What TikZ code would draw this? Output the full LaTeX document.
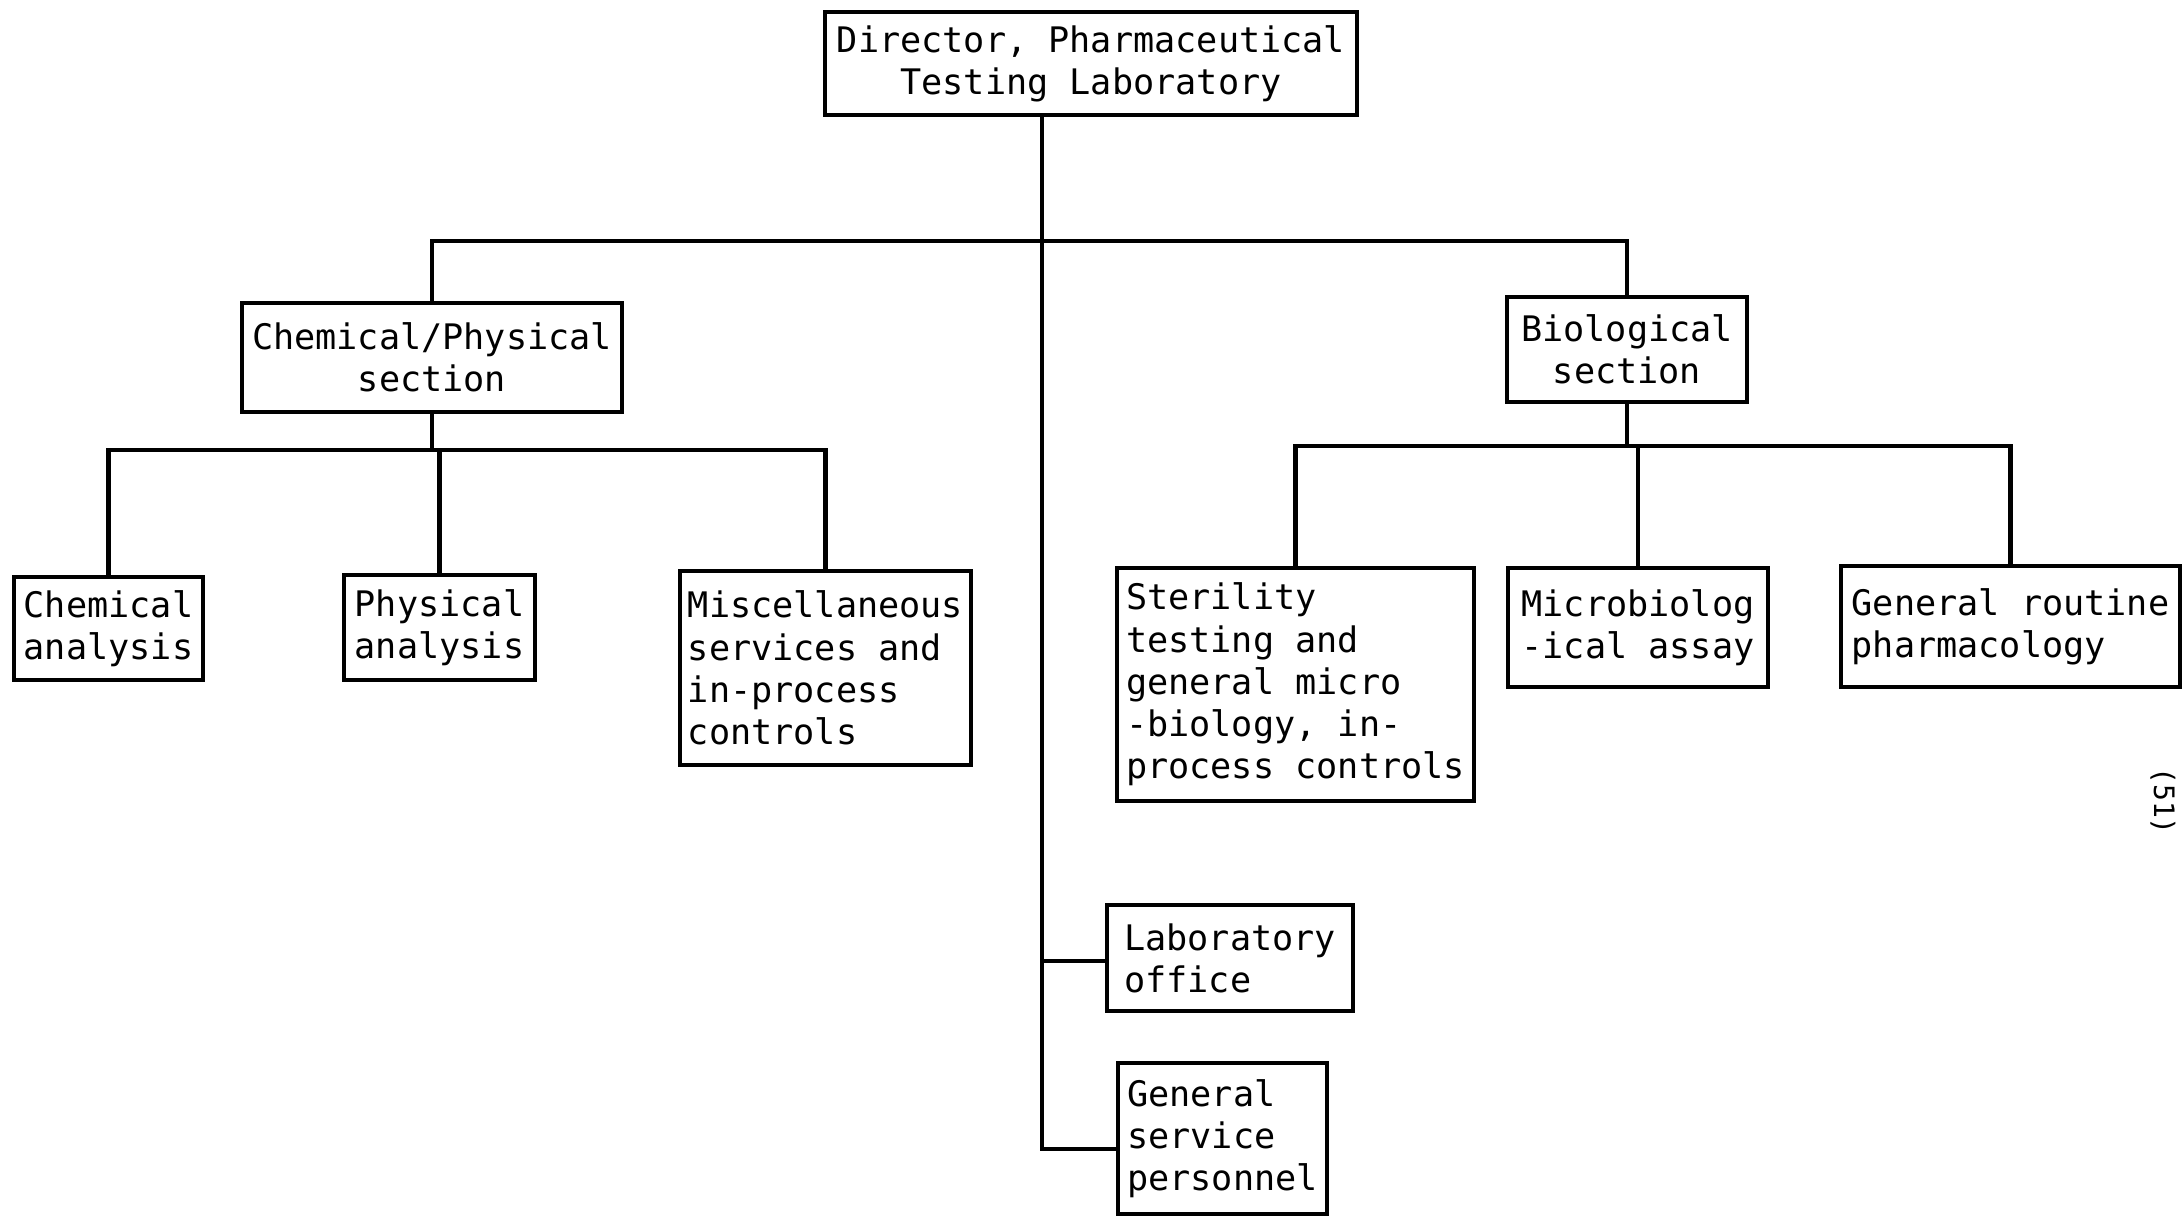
\documentclass[tikz,border=0pt]{standalone}
\usepackage{fontspec}
\setmonofont{DejaVu Sans Mono}
\tikzset{
  unitbox/.style={draw, rectangle, line width=1.3pt, inner sep=2pt,
    font=\ttfamily\fontsize{10}{12}\selectfont},
  link/.style={line width=1.3pt},
}
\begin{document}
\begin{tikzpicture}[x=0.01cm, y=-0.01cm]
                \useasboundingbox (0,0) rectangle (2184,1218);

                \node[unitbox, align=center, minimum width=5.32cm, minimum height=1.03cm] (director) at (1091,63.5) {Director, Pharmaceutical\\Testing Laboratory};
                \node[unitbox, align=center, minimum width=3.80cm, minimum height=1.09cm] (chemphys) at (432,357.5) {Chemical/Physical\\section};
                \node[unitbox, align=center, minimum width=2.40cm, minimum height=1.05cm] (bio) at (1627,349.5) {Biological\\section};

                \node[unitbox, align=left, minimum width=1.89cm, minimum height=1.03cm] (chem) at (108.5,628.5) {Chemical\\analysis};
                \node[unitbox, align=left, minimum width=1.91cm, minimum height=1.05cm] (phys) at (439.5,627.5) {Physical\\analysis};
                \node[unitbox, align=left, minimum width=2.91cm, minimum height=1.94cm] (misc) at (825.5,668) {Miscellaneous\\services and\\in-process\\controls};

                \node[unitbox, align=left, minimum width=3.57cm, minimum height=2.33cm] (steril) at (1295.5,684.5) {Sterility\\testing and\\general micro\\-biology, in-\\process controls};
                \node[unitbox, align=left, minimum width=2.60cm, minimum height=1.19cm] (micro) at (1638,627.5) {Microbiolog\\-ical assay};
                \node[unitbox, align=left, minimum width=3.39cm, minimum height=1.21cm] (pharm) at (2010.5,626.5) {General routine\\pharmacology};

                \node[unitbox, align=left, minimum width=2.46cm, minimum height=1.06cm] (office) at (1230,958) {Laboratory\\office};
                \node[unitbox, align=left, minimum width=2.09cm, minimum height=1.51cm] (service) at (1222.5,1138.5) {General\\service\\personnel};

                \node[rotate=-90, font=\ttfamily\fontsize{8}{9.6}\selectfont] (pageno) at (2163,801) {(51)};

                \coordinate (topbar) at (0,241);
                \coordinate (lbar) at (0,450);
                \coordinate (rbar) at (0,446);
                \coordinate (toff) at (1042,961);
                \coordinate (tbot) at (1042,1149);

                \draw[link] (director.south -| tbot) -- (tbot) -- (tbot -| service.west);
                \draw[link] (toff) -- (toff -| office.west);
                \draw[link] (chemphys.north) |- (topbar -| bio.north) -- (bio.north);

                \draw[link] (chemphys.south) -- (chemphys.south |- lbar);
                \draw[link] (chem.north) |- (lbar -| misc.north) -- (misc.north);
                \draw[link] (phys.north) -- (phys.north |- lbar);

                \draw[link] (bio.south) -- (bio.south |- rbar);
                \draw[link] (steril.north) |- (rbar -| pharm.north) -- (pharm.north);
                \draw[link] (micro.north) -- (micro.north |- rbar);
\end{tikzpicture}
\end{document}
